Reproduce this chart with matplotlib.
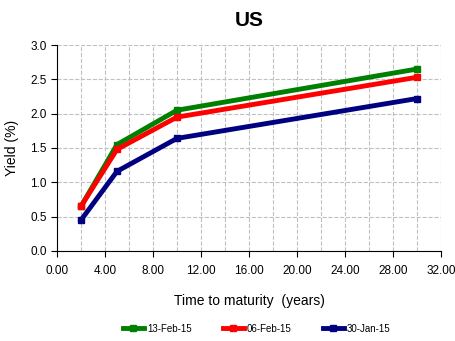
import matplotlib
matplotlib.use('Agg')
import matplotlib.pyplot as plt
from matplotlib.ticker import MultipleLocator, FormatStrFormatter

plt.rcParams['font.family'] = ['Liberation Sans', 'DejaVu Sans']

maturity = [2, 5, 10, 30]
feb13 = [0.65, 1.55, 2.05, 2.65]
feb06 = [0.65, 1.48, 1.95, 2.53]
jan30 = [0.45, 1.16, 1.64, 2.22]
labels = ['13-Feb-15', '06-Feb-15', '30-Jan-15']

fig = plt.figure(figsize=(4.56, 3.41), dpi=100)
ax = fig.add_axes([0.125, 0.264, 0.842, 0.604])

for y, c, lab in zip([feb13, feb06, jan30], ['#008000', '#ff0000', '#000080'], labels):
    ax.plot(maturity, y, '-s', color=c, lw=3.5, markersize=5, label=lab)

ax.set_xlim(0, 32)
ax.set_ylim(0, 3.0)
ax.xaxis.set_major_locator(MultipleLocator(4))
ax.xaxis.set_minor_locator(MultipleLocator(2))
ax.yaxis.set_major_locator(MultipleLocator(0.5))
ax.xaxis.set_major_formatter(FormatStrFormatter('%.2f'))
ax.yaxis.set_major_formatter(FormatStrFormatter('%.1f'))
ax.grid(True, which='both', axis='x', color='#c0c0c0', ls='--', lw=0.8)
ax.grid(True, which='major', axis='y', color='#c0c0c0', ls='--', lw=0.8)
ax.set_axisbelow(True)
ax.tick_params(which='major', direction='out', length=4, labelsize=8.5, color='black')
ax.tick_params(which='minor', length=0)
ax.tick_params(axis='x', pad=6)
for s in ['top', 'right']:
    ax.spines[s].set_visible(False)

ax.set_title('US', fontsize=15, fontweight='bold', pad=14)
ax.set_xlabel('Time to maturity  (years)', fontsize=10, labelpad=12)
ax.set_ylabel('Yield (%)', fontsize=10, labelpad=8)
ax.legend(loc='upper center', bbox_to_anchor=(0.52, -0.31), ncol=3, frameon=False,
          fontsize=7, handlelength=2.2, columnspacing=3.2, handletextpad=0.3)

fig.savefig('out.png', dpi=100)
